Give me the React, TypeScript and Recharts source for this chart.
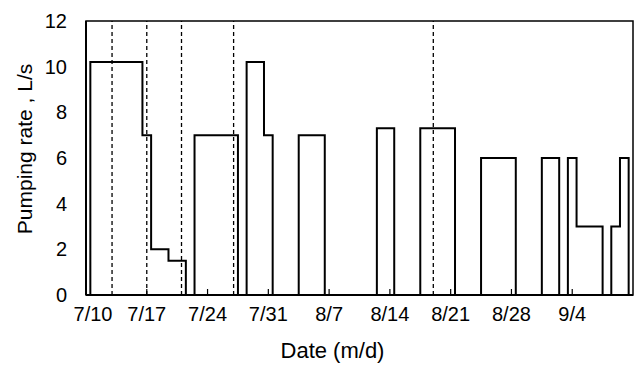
import React from 'react';
import { LineChart, Line, XAxis, YAxis, ReferenceLine, ReferenceArea, Label } from 'recharts';

const FONT = '"Liberation Sans", Arial, sans-serif';

// days since 7/10 at which the pumping rate changes (step after)
const stepDays = [0, 0.5, 6.5, 7.5, 9.5, 11.5, 12.5, 17.5, 18.5, 20.5, 21.5, 24.5, 27.5, 33.5, 35.5, 38.5, 42.5, 45.5, 49.5, 52.5, 54.5, 55.5, 56.5, 59.5, 60.5, 61.5, 62.5, 63];
const pumpingRates = [0, 10.2, 7, 2, 1.5, 0, 7, 0, 10.2, 7, 0, 7, 0, 7.3, 0, 7.3, 0, 6, 0, 6, 0, 6, 3, 0, 3, 6, 0, 0];

const tickDays = [0, 7, 14, 21, 28, 35, 42, 49, 56];
const tickLabels = ['7/10', '7/17', '7/24', '7/31', '8/7', '8/14', '8/21', '8/28', '9/4'];
const eventDays = [3, 7, 11, 17, 40];
const yTicks = [0, 2, 4, 6, 8, 10, 12];

const data = stepDays.map((d, i) => ({ day: d, rate: pumpingRates[i] }));

function XTick(props: any) {
  const { x, y, payload, index } = props;
  const i = tickDays.indexOf(payload.value);
  const shift = index === 0 ? 7 : 0;
  return (
    <g>
      <line x1={x} x2={x} y1={y} y2={y - 6} stroke="#000" strokeWidth={1.2} />
      <text x={x + shift} y={y + 12} dy="0.71em" textAnchor="middle" fontSize={20} fontFamily={FONT} fill="#000">
        {tickLabels[i]}
      </text>
    </g>
  );
}

function YTitle(props: any) {
  const vb = props.viewBox;
  const cx = vb.x + 25;
  const cy = vb.y + vb.height / 2 - 9;
  return (
    <text x={cx} y={cy} dy="0.355em" transform={`rotate(-90 ${cx} ${cy})`} textAnchor="middle" fontSize={21} fontFamily={FONT} fill="#000">
      Pumping rate , L/s
    </text>
  );
}

function XTitle(props: any) {
  const vb = props.viewBox;
  const cx = vb.x + vb.width / 2 - 27;
  const cy = vb.y + 55;
  return (
    <text x={cx} y={cy} dy="0.355em" textAnchor="middle" fontSize={22} fontFamily={FONT} fill="#000">
      Date (m/d)
    </text>
  );
}

export default function App() {
  return (
    <div style={{ position: 'absolute', left: 0, top: 0, background: '#fff' }}>
      <LineChart width={635} height={365} data={data} margin={{ top: 21, right: 2, left: 0, bottom: 0 }}>
        <ReferenceArea x1={0} x2={63} y1={0} y2={12} fill="none" stroke="#000" strokeWidth={1.5} />
        {eventDays.map((d) => (
          <ReferenceLine key={d} x={d} stroke="#000" strokeWidth={1.3} strokeDasharray="4 3" />
        ))}
        <XAxis
          type="number"
          dataKey="day"
          domain={[0, 63]}
          ticks={tickDays}
          interval={0}
          height={70}
          tickSize={0}
          tickMargin={0}
          tickLine={false}
          axisLine={{ stroke: '#000', strokeWidth: 2 }}
          tick={<XTick />}
          allowDataOverflow
        >
          <Label content={<XTitle />} />
        </XAxis>
        <YAxis
          type="number"
          domain={[0, 12]}
          ticks={yTicks}
          interval={0}
          width={86}
          tickSize={0}
          tickMargin={19}
          tickLine={false}
          axisLine={{ stroke: '#000', strokeWidth: 2 }}
          tick={{ fontSize: 20, fill: '#000', fontFamily: FONT }}
        >
          <Label content={<YTitle />} />
        </YAxis>
        <Line
          type="stepAfter"
          dataKey="rate"
          stroke="#000"
          strokeWidth={2}
          dot={false}
          isAnimationActive={false}
        />
      </LineChart>
    </div>
  );
}
